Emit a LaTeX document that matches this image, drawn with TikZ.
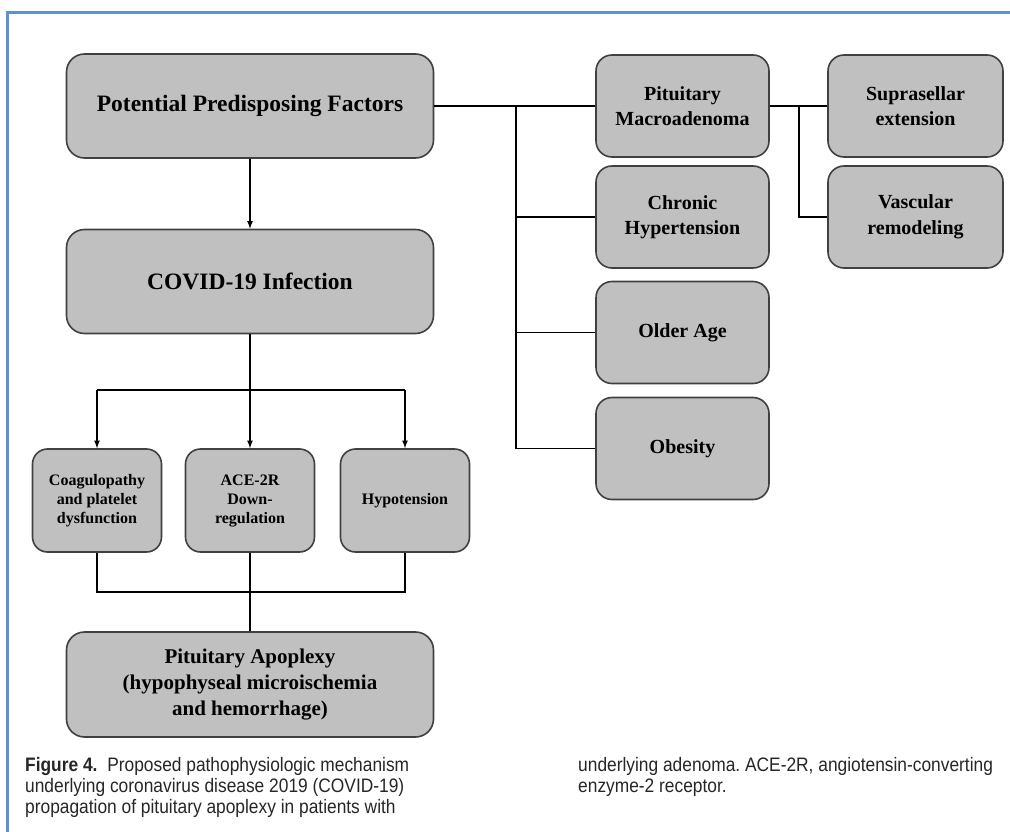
\documentclass[tikz,border=0pt]{standalone}
\usepackage{fontspec}
\setmainfont{Liberation Serif}
\newfontfamily\capfont[FakeStretch=0.89]{Liberation Sans}
\usepackage{tikz}
\frenchspacing

\definecolor{boxgray}{RGB}{192,192,192}
\definecolor{boxline}{RGB}{64,64,64}
\definecolor{frameblue}{RGB}{91,146,208}

\begin{document}
\begin{tikzpicture}[x=1pt, y=-1pt, >=latex,
  factor/.style={draw=boxline, fill=boxgray, line width=1.6pt, rounded corners=16pt, align=center, inner sep=0pt,
    minimum width=173pt, minimum height=102pt, font=\bfseries\fontsize{20}{25.5}\selectfont},
  bigbox/.style={factor, minimum width=367pt, minimum height=104pt, rounded corners=18pt, font=\bfseries\fontsize{23.5}{27}\selectfont},
  smallbox/.style={factor, minimum width=129pt, minimum height=103pt, rounded corners=15pt, font=\bfseries\fontsize{16}{19}\selectfont},
  link/.style={line width=1.6pt},
  caption/.style={align=left, inner sep=0pt, font=\capfont\fontsize{19.5}{21}\selectfont, text=black!85}]
\useasboundingbox (0,0) rectangle (1010,832);
\draw[frameblue, line width=3pt] (7,832) -- (7,13) -- (1010,13);

% left column
\node[bigbox] (ppf) at (250,106) {Potential Predisposing Factors};
\node[bigbox] (covid) at (250,281.5) {COVID-19 Infection};
\node[smallbox] (coag) at (97,500.5) {Coagulopathy\\and platelet\\dysfunction};
\node[smallbox] (ace) at (250,500.5) {ACE-2R\\Down-\\regulation};
\node[smallbox] (hypo) at (405,500.5) {Hypotension};
\node[bigbox, minimum height=105pt, font=\bfseries\fontsize{21}{26}\selectfont] (apoplexy) at (250,684.5) {Pituitary Apoplexy\\(hypophyseal microischemia\\and hemorrhage)};

% factors
\node[factor] (macro) at (682.5,106) {Pituitary\\Macroadenoma};
\node[factor] (htn) at (682.5,217) {Chronic\\Hypertension};
\node[factor] (age) at (682.5,332.5) {Older Age};
\node[factor] (obesity) at (682.5,448.5) {Obesity};
\node[factor, minimum width=175pt] (supra) at (915.5,106) {Suprasellar\\extension};
\node[factor, minimum width=175pt] (vasc) at (915.5,217) {Vascular\\remodeling};

\draw[->, link] (ppf) -- (covid);
\coordinate (split) at (250,390);
\draw[link] (covid) -- (split);
\draw[link] (coag.north |- split) -- (hypo.north |- split);
\foreach \n in {coag,ace,hypo} \draw[->, link] (\n.north |- split) -- (\n);
\coordinate (merge) at (250,592);
\draw[link] (coag) |- (merge) -| (hypo);
\draw[link] (ace) -- (apoplexy);

\draw[link] (ppf) -- (macro);
\coordinate (trunk) at (516,106);
\draw[link] (trunk) |- (obesity);
\foreach \n in {htn,age} \draw[link] (trunk |- \n) -- (\n);
\draw[link] (macro) -- (supra);
\coordinate (fork) at (799,106);
\draw[link] (fork) |- (vasc);

% caption
\node[caption, anchor=north west] (capleft) at (25,757) {\textbf{Figure 4.}\enspace Proposed pathophysiologic mechanism\\underlying coronavirus disease 2019 (COVID-19)\\propagation of pituitary apoplexy in patients with};
\node[caption, anchor=north west] (capright) at (578,757) {underlying adenoma. ACE-2R, angiotensin-converting\\enzyme-2 receptor.};
\end{tikzpicture}
\end{document}
